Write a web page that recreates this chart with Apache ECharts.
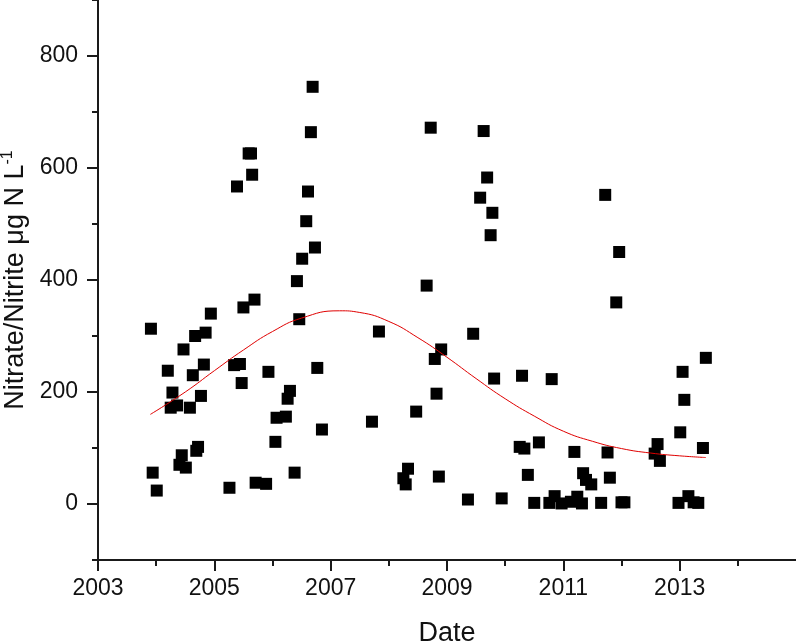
<!DOCTYPE html>
<html>
<head>
<meta charset="utf-8">
<script src="https://cdn.jsdelivr.net/npm/echarts@6/dist/echarts.min.js"></script>
<style>
  html, body { margin: 0; padding: 0; background: #fff; }
  #main { width: 796px; height: 641px; }
</style>
</head>
<body>
<div id="main"></div>
<script>
//-------------------- data --------------------//
var dates = [
  2003.91, 2003.94, 2004.01, 2004.20, 2004.28, 2004.25, 2004.36, 2004.47, 2004.67, 2004.85,
  2004.94, 2004.63, 2004.82, 2004.58, 2004.77, 2004.44, 2004.40, 2004.51, 2004.72, 2004.69,
  2005.26, 2005.50, 2005.69, 2005.34, 2005.44, 2005.47, 2005.93, 2005.71, 2005.89, 2006.05,
  2006.07, 2006.23, 2006.26, 2006.30, 2006.38, 2006.42, 2006.46, 2006.51, 2006.58, 2006.73,
  2006.77, 2006.85, 2006.69, 2006.66, 2005.59, 2005.63, 2005.65, 2005.39, 2006.61, 2008.72,
  2009.63, 2009.69, 2009.57, 2009.78, 2009.75, 2011.72, 2011.96, 2008.65, 2007.83, 2009.45,
  2008.90, 2008.79, 2009.81, 2010.29, 2010.80, 2008.82, 2008.47, 2007.71, 2011.91, 2010.25,
  2010.33, 2010.58, 2011.19, 2011.76, 2008.33, 2008.25, 2008.29, 2008.86, 2010.39, 2011.34,
  2011.39, 2011.48, 2011.80, 2009.36, 2009.94, 2010.50, 2010.76, 2010.85, 2010.97, 2011.13,
  2011.24, 2011.32, 2011.65, 2012.05, 2012.00, 2012.57, 2012.62, 2012.66, 2012.98, 2013.01,
  2013.05, 2013.08, 2013.15, 2013.24, 2013.32, 2013.40, 2013.45
];
var nitrate = [
  313, 56, 24, 238, 199, 172, 176, 276, 300, 306,
  340, 230, 249, 172, 193, 87, 70, 65, 102, 95,
  29, 351, 365, 248, 250, 216, 236, 38, 36, 111,
  154, 156, 188, 202, 56, 398, 330, 438, 505, 458,
  243, 133, 745, 664, 626, 626, 588, 567, 558, 672,
  666, 583, 547, 520, 480, 552, 450, 390, 308, 304,
  276, 259, 224, 229, 223, 197, 165, 147, 360, 102,
  99, 110, 93, 92, 63, 46, 35, 49, 52, 55,
  43, 35, 47, 8, 10, 2, 2, 14, 1, 4,
  13, 1, 2, 3, 3, 90, 107, 77, 2, 128,
  236, 186, 14, 3, 2, 100, 261
];

// red fitted curve
var fitDates = [2003.9, 2004.5, 2005.0, 2005.5, 2006.0, 2006.5, 2007.15, 2007.5, 2008.0, 2008.5,
  2009.0, 2009.5, 2010.0, 2010.5, 2011.0, 2011.5, 2012.0, 2012.5, 2013.0, 2013.45];
var fitValues = [160, 200, 238, 275, 308, 332, 345, 342, 326, 297,
  262, 224, 188, 157, 130, 112, 99, 91, 86, 83];

// tick positions
var yearTicks = [2003, 2005, 2007, 2009, 2011, 2013];
var yearMinor = [2004, 2006, 2008, 2010, 2012, 2014];
var yTicks = [0, 200, 400, 600, 800];
var yMinor = [-100, 100, 300, 500, 700, 900];

var scatterData = dates.map(function(d, i) { return [d, nitrate[i]]; });
var fitData = fitDates.map(function(d, i) { return [d, fitValues[i]]; });

var font = 'Liberation Sans, Arial, sans-serif';
var axisColor = '#1a1a1a';

var myChart = echarts.init(document.getElementById('main'));
var option = {
  animation: false,
  backgroundColor: '#fff',
  grid: { left: 98, right: 0, top: 0, bottom: 81, outerBoundsMode: 'none' },
  xAxis: [{
    type: 'value',
    min: 2003,
    max: 2015,
    interval: 1,
    name: 'Date',
    nameLocation: 'middle',
    nameGap: 60,
    nameTextStyle: { fontFamily: font, fontSize: 27, color: '#111' },
    axisLine: { onZero: false, lineStyle: { color: axisColor, width: 2 } },
    axisTick: { customValues: yearTicks, length: 11, lineStyle: { color: axisColor, width: 2 } },
    axisLabel: {
      customValues: yearTicks, margin: 17, fontFamily: font, fontSize: 23, color: '#111',
      formatter: function(v) { return String(v); }
    },
    splitLine: { show: false }
  }, {
    // minor ticks only
    type: 'value',
    position: 'bottom',
    min: 2003,
    max: 2015,
    interval: 1,
    axisLine: { show: false, onZero: false },
    axisTick: { customValues: yearMinor, length: 6, lineStyle: { color: axisColor, width: 2 } },
    axisLabel: { show: false },
    splitLine: { show: false }
  }],
  yAxis: [{
    type: 'value',
    min: -100,
    max: 900,
    interval: 100,
    name: 'Nitrate/Nitrite \u03bcg N L{sup|-1}',
    nameLocation: 'middle',
    nameGap: 63,
    nameTextStyle: {
      fontFamily: font, fontSize: 27, color: '#111',
      rich: { sup: { fontFamily: font, fontSize: 16, color: '#111', padding: [0, 0, 16, 0] } }
    },
    axisLine: { onZero: false, lineStyle: { color: axisColor, width: 2 } },
    axisTick: { customValues: yTicks, length: 11, lineStyle: { color: axisColor, width: 2 } },
    axisLabel: { customValues: yTicks, margin: 20, fontFamily: font, fontSize: 23, color: '#111' },
    splitLine: { show: false }
  }, {
    type: 'value',
    position: 'left',
    min: -100,
    max: 900,
    interval: 100,
    axisLine: { show: false, onZero: false },
    axisTick: { customValues: yMinor, length: 6, lineStyle: { color: axisColor, width: 2 } },
    axisLabel: { show: false },
    splitLine: { show: false }
  }],
  series: [{
    type: 'scatter',
    symbol: 'rect',
    symbolSize: 12,
    itemStyle: { color: '#000', opacity: 1 },
    data: scatterData,
    z: 2
  }, {
    type: 'line',
    smooth: true,
    showSymbol: false,
    lineStyle: { color: '#e00000', width: 1 },
    data: fitData,
    z: 3
  }]
};
myChart.setOption(option);
</script>
</body>
</html>
